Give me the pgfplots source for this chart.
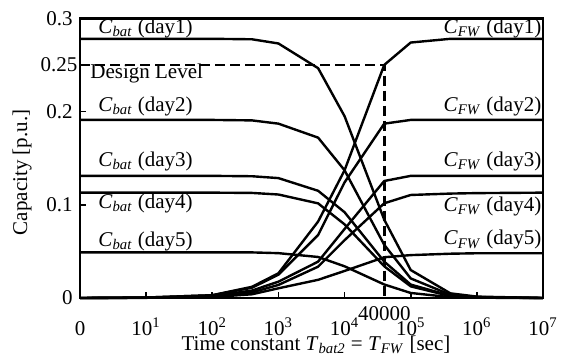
\documentclass[border=0pt]{standalone}
\usepackage{fontspec}
\setmainfont{Liberation Serif}
\usepackage{pgfplots}
\pgfplotsset{compat=1.18}
\usepackage{pgfplotstable}

\pgfplotstableread{
u    b1      b2      b3      b4      b5      f1      f2      f3      f4      f5
0    0.278   0.191   0.131   0.113   0.049   0.0     0.0     0.0     0.0     0.0
1    0.278   0.191   0.131   0.113   0.049   0.0005  0.0005  0.0003  0.0003  0.0002
2    0.278   0.191   0.131   0.113   0.049   0.003   0.003   0.002   0.0015  0.001
2.6  0.2775  0.1905  0.1306  0.1127  0.0489  0.012   0.011   0.008   0.006   0.004
3    0.273   0.187   0.1286  0.111   0.0481  0.0265  0.025   0.0175  0.014   0.0104
3.6  0.2465  0.172   0.115   0.1015  0.0440  0.082   0.0676  0.039   0.0336  0.0195
4    0.195   0.137   0.092   0.079   0.034   0.137   0.124   0.074   0.062   0.029
4.6  0.084   0.057   0.039   0.034   0.0145  0.25    0.187   0.1255  0.1016  0.0437
5    0.030   0.021   0.0144  0.0125  0.0054  0.274   0.191   0.131   0.1105  0.046
5.6  0.005   0.0035  0.0024  0.002   0.0009  0.278   0.191   0.131   0.112   0.0475
6    0.0015  0.001   0.0007  0.0006  0.0003  0.278   0.191   0.131   0.1125  0.048
7    0.0     0.0     0.0     0.0     0.0     0.278   0.191   0.131   0.113   0.048
}\data

\begin{document}
\fontsize{10.5bp}{12.6bp}\selectfont
\begin{tikzpicture}
\path[use as bounding box] (0,0) rectangle (283.5bp,179bp);
\begin{axis}[
  at={(40bp,30bp)}, anchor=south west,
  width=231.5bp, height=139.85bp, scale only axis,
  xmin=0, xmax=7, ymin=0, ymax=0.3,
  xtick={0,1,2,3,4,5,6,7},
  xticklabels={0,10\textsuperscript{1},10\textsuperscript{2},10\textsuperscript{3},10\textsuperscript{4},10\textsuperscript{5},10\textsuperscript{6},10\textsuperscript{7}},
  ytick={0,0.1,0.2,0.3},
  yticklabels={0,0.1,0.2,0.3},
  extra x ticks={4.60206},
  extra x tick labels={40000},
  extra x tick style={major tick length=0pt, xticklabel style={yshift=7.5bp}},
  extra y ticks={0.25},
  extra y tick labels={0.25},
  extra y tick style={yticklabel style={xshift=2.4bp}},
  xticklabel style={anchor=base, yshift=-18.5bp},
  tick align=inside,
  major tick length=3bp,
  xtick pos=bottom, ytick pos=left,
  axis line style={line width=1.3bp},
  tick style={line width=0.8bp, black},
  xlabel={Time constant \textit{T}\textsubscript{\textit{bat2}} = \textit{T}\textsubscript{\textit{FW}} [sec]},
  xlabel style={at={(axis description cs:0.5097,-0.186)}, anchor=base},
  ylabel={Capacity [p.u.]},
  ylabel style={at={(axis description cs:-0.1253,0.449)}, anchor=center},
  /pgf/number format/assume math mode=true,
  clip=false,
]
\addplot[black, line width=1.2bp, dash pattern=on 5bp off 2.5bp] coordinates {(0,0.25) (4.60206,0.25) (4.60206,0)};
\foreach \c in {b1,b2,b3,b4,b5,f1,f2,f3,f4,f5}{
  \addplot[black, line width=1.2bp] table[x=u, y=\c] {\data};
}
\node[anchor=base west, inner sep=0pt] at (axis cs:0.272,0.284) {\textit{C}\textsubscript{\textit{bat}} (day1)};
\node[anchor=base west, inner sep=0pt] at (axis cs:0.151,0.235) {Design Level};
\node[anchor=base west, inner sep=0pt] at (axis cs:0.272,0.200) {\textit{C}\textsubscript{\textit{bat}} (day2)};
\node[anchor=base west, inner sep=0pt] at (axis cs:0.272,0.141) {\textit{C}\textsubscript{\textit{bat}} (day3)};
\node[anchor=base west, inner sep=0pt] at (axis cs:0.272,0.0962) {\textit{C}\textsubscript{\textit{bat}} (day4)};
\node[anchor=base west, inner sep=0pt] at (axis cs:0.272,0.055) {\textit{C}\textsubscript{\textit{bat}} (day5)};
\node[anchor=base east, inner sep=0pt] at (axis cs:6.98,0.284) {\textit{C}\textsubscript{\textit{FW}} (day1)};
\node[anchor=base east, inner sep=0pt] at (axis cs:6.98,0.200) {\textit{C}\textsubscript{\textit{FW}} (day2)};
\node[anchor=base east, inner sep=0pt] at (axis cs:6.98,0.141) {\textit{C}\textsubscript{\textit{FW}} (day3)};
\node[anchor=base east, inner sep=0pt] at (axis cs:6.98,0.0926) {\textit{C}\textsubscript{\textit{FW}} (day4)};
\node[anchor=base east, inner sep=0pt] at (axis cs:6.98,0.0569) {\textit{C}\textsubscript{\textit{FW}} (day5)};
\end{axis}
\end{tikzpicture}
\end{document}
